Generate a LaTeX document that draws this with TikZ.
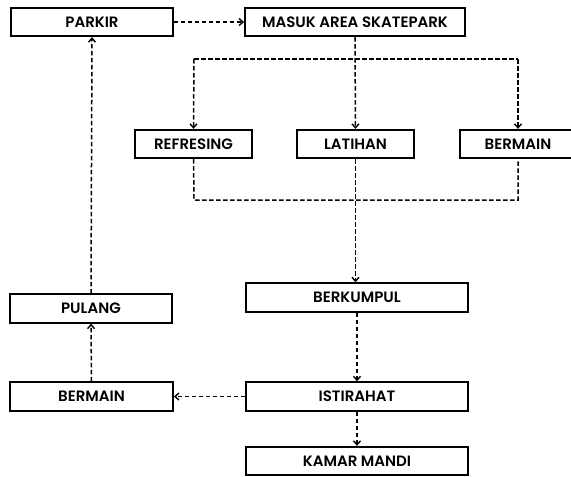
\documentclass[tikz,border=0pt]{standalone}
\usepackage{fontspec}
\setmainfont{Poppins}[UprightFont={* SemiBold}]
\usetikzlibrary{arrows.meta}
\begin{document}
\begin{tikzpicture}[x=1pt,y=-1pt,
  box/.style={draw=black,line width=1.8pt,rectangle,minimum height=28.5pt,inner sep=0pt,font=\fontsize{15}{17}\selectfont},
  link/.style={line width=1.5pt,dash pattern=on 4.5pt off 2.5pt},
  arr/.style={link,-{Straight Barb[length=4pt,width=7pt,line width=1.4pt]}}]
\useasboundingbox (0,0) rectangle (571,477);
\node[box,minimum width=162pt] (parkir) at (92,22) {PARKIR};
\node[box,minimum width=220pt] (masuk) at (355,22) {MASUK AREA SKATEPARK};
\node[box,minimum width=117pt] (refresing) at (193.5,144) {REFRESING};
\node[box,minimum width=117pt] (latihan) at (355.5,144) {LATIHAN};
\node[box,minimum width=116pt] (bermainA) at (518,144) {BERMAIN};
\node[box,minimum width=222pt] (berkumpul) at (357,297.5) {BERKUMPUL};
\node[box,minimum width=222pt] (istirahat) at (357,396.5) {ISTIRAHAT};
\node[box,minimum width=222pt] (kamar) at (357,461) {KAMAR MANDI};
\node[box,minimum width=162pt] (pulang) at (91,308.5) {PULANG};
\node[box,minimum width=163pt] (bermainB) at (91.5,396.5) {BERMAIN};
\coordinate (brL) at (194,59);
\coordinate (brR) at (518,59);
\coordinate (mL) at (194,200);
\coordinate (mR) at (518,200);
\draw[arr] (parkir.east) -- (masuk.west);
\draw[link] (brL) -- (brR);
\draw[arr] (masuk.south) -- (latihan.north);
\draw[arr] (brL) -- (refresing.north);
\draw[arr] (brR) -- (bermainA.north);
\draw[link] (refresing.south) -- (mL) -- (mR) -- (bermainA.south);
\draw[arr] (latihan.south) -- (latihan.south |- berkumpul.north);
\draw[arr] (berkumpul.south) -- (istirahat.north);
\draw[arr] (istirahat.south) -- (kamar.north);
\draw[arr] (istirahat.west) -- (bermainB.east);
\draw[arr] (bermainB.north) -- (pulang.south);
\draw[arr] (pulang.north) -- (parkir.south);
\end{tikzpicture}
\end{document}
